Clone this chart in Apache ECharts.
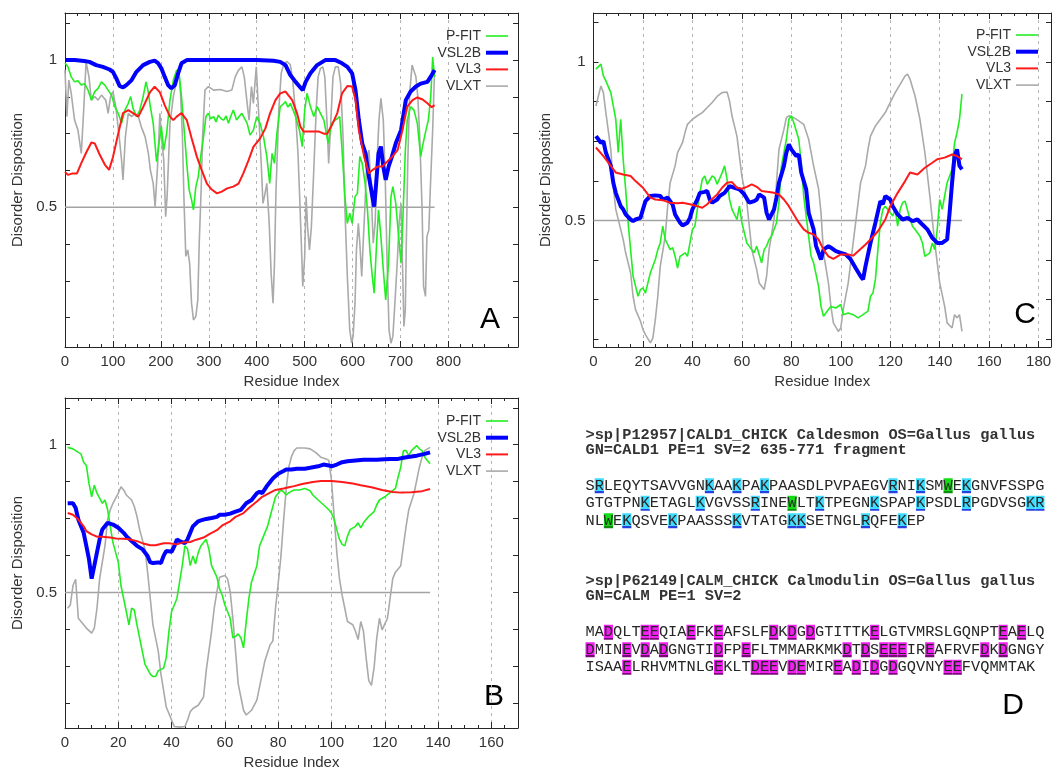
<!DOCTYPE html>
<html>
<head>
<meta charset="utf-8">
<script src="https://cdn.jsdelivr.net/npm/echarts@6/dist/echarts.min.js"></script>
<style>
  html, body { margin: 0; padding: 0; background: #fff; }
  #main { width: 1055px; height: 771px; }
</style>
</head>
<body>
<div id="main"></div>
<script>
// ---------------- data ----------------
const seriesNames = ['P-FIT', 'VSL2B', 'VL3', 'VLXT'];
const seriesColors = ['#22ee22', '#0000ff', '#ff1a1a', '#aaaaaa'];
const threshold = 0.5;

// x tick labels and dashed guide positions per panel
const xLabelsA = [0, 100, 200, 300, 400, 500, 600, 700, 800];
const xGuidesA = [100, 200, 300, 400, 500, 600, 700, 800];
const xLabelsB = [0, 20, 40, 60, 80, 100, 120, 140, 160];
const xGuidesB = [20, 40, 60, 80, 100, 120, 140, 160];
const xLabelsC = [0, 20, 40, 60, 80, 100, 120, 140, 160, 180];
const xGuidesC = [20, 40, 60, 80, 100, 120, 140, 160, 180];
const yLabels = [0.5, 1];
const yTicks = [0.125, 0.25, 0.375, 0.5, 0.625, 0.75, 0.875, 1, 1.125];

// sequence lengths (residues)
const lengthA = 771;   // Caldesmon
const lengthB = 137;   // Caldesmon 635-771 fragment
const lengthC = 149;   // Calmodulin

// Panel A: Caldesmon (full length)
const pfitA = [[0,0.99],[6,0.977],[13,0.943],[20,0.926],[27,0.93],[34,0.915],[41,0.92],[48,0.898],[55,0.864],[62,0.893],[69,0.904],[76,0.926],[83,0.915],[90,0.898],[97,0.881],[104,0.842],[111,0.819],[118,0.785],[125,0.83],[132,0.853],[137,0.876],[142,0.836],[149,0.808],[156,0.83],[163,0.876],[169,0.926],[173,0.898],[178,0.842],[184,0.785],[191,0.655],[197,0.728],[201,0.774],[206,0.694],[212,0.751],[219,0.864],[226,0.932],[233,0.966],[238,0.955],[243,0.876],[248,0.774],[254,0.649],[259,0.559],[264,0.525],[268,0.491],[273,0.57],[278,0.604],[283,0.672],[289,0.74],[294,0.808],[299,0.819],[304,0.8],[310,0.808],[315,0.79],[320,0.813],[326,0.8],[331,0.796],[336,0.81],[341,0.785],[346,0.81],[351,0.83],[358,0.796],[364,0.81],[369,0.819],[375,0.8],[380,0.785],[386,0.745],[393,0.762],[400,0.808],[407,0.785],[414,0.74],[421,0.672],[427,0.581],[432,0.683],[437,0.649],[442,0.751],[449,0.842],[455,0.85],[460,0.859],[465,0.84],[470,0.853],[476,0.83],[481,0.808],[489,0.762],[495,0.706],[500,0.83],[505,0.887],[512,0.842],[519,0.808],[526,0.842],[533,0.819],[540,0.796],[549,0.717],[556,0.785],[564,0.796],[573,0.808],[578,0.694],[584,0.536],[589,0.445],[594,0.48],[599,0.445],[605,0.536],[610,0.547],[615,0.672],[620,0.649],[626,0.581],[631,0.491],[636,0.355],[641,0.265],[645,0.208],[650,0.378],[654,0.491],[659,0.4],[664,0.287],[669,0.185],[675,0.31],[680,0.536],[684,0.57],[690,0.513],[696,0.4],[701,0.31],[705,0.468],[710,0.694],[714,0.796],[721,0.842],[728,0.83],[735,0.785],[742,0.672],[747,0.717],[753,0.762],[758,0.796],[763,0.876],[767,1.01],[771,0.943]];
const vsl2bA = [[0,1.0],[20,1.0],[40,0.997],[51,0.994],[65,0.983],[79,0.977],[93,0.968],[100,0.96],[107,0.938],[114,0.912],[121,0.907],[128,0.915],[139,0.932],[149,0.96],[163,0.983],[177,0.994],[187,0.998],[194,0.99],[201,0.972],[208,0.943],[215,0.915],[222,0.904],[229,0.915],[236,0.955],[243,0.989],[254,1.0],[300,1.0],[350,1.0],[400,1.0],[435,0.998],[449,0.994],[460,0.983],[470,0.949],[481,0.926],[491,0.907],[496,0.898],[502,0.926],[512,0.955],[526,0.983],[543,1.0],[564,1.0],[578,0.989],[589,0.977],[599,0.955],[606,0.898],[613,0.796],[620,0.717],[627,0.683],[634,0.604],[640,0.547],[645,0.502],[648,0.559],[654,0.683],[659,0.706],[664,0.638],[669,0.593],[675,0.638],[682,0.672],[690,0.717],[701,0.762],[711,0.864],[721,0.893],[732,0.91],[742,0.92],[756,0.926],[765,0.949],[771,0.966]];
const vl3A = [[0,0.62],[6,0.61],[16,0.615],[25,0.615],[34,0.65],[44,0.685],[55,0.72],[62,0.717],[72,0.68],[83,0.645],[92,0.627],[100,0.67],[111,0.75],[121,0.82],[132,0.83],[142,0.82],[153,0.808],[163,0.84],[177,0.89],[187,0.91],[198,0.89],[208,0.847],[219,0.808],[226,0.796],[233,0.808],[243,0.82],[254,0.796],[264,0.735],[275,0.672],[285,0.627],[296,0.58],[306,0.56],[317,0.547],[327,0.553],[338,0.564],[351,0.57],[362,0.58],[372,0.615],[383,0.66],[393,0.705],[407,0.734],[418,0.768],[428,0.82],[439,0.864],[449,0.887],[460,0.893],[474,0.864],[484,0.82],[491,0.774],[498,0.757],[516,0.757],[530,0.757],[540,0.75],[547,0.75],[557,0.78],[568,0.82],[578,0.887],[589,0.912],[599,0.91],[606,0.864],[613,0.762],[624,0.672],[634,0.615],[641,0.626],[652,0.638],[662,0.638],[669,0.65],[683,0.672],[694,0.695],[704,0.762],[714,0.842],[725,0.864],[735,0.873],[746,0.866],[756,0.853],[765,0.84],[771,0.847]];
const vlxtA = [[0,0.966],[4,0.808],[8,0.932],[13,0.887],[20,0.796],[27,0.762],[34,0.683],[39,0.83],[44,0.994],[50,0.943],[55,0.864],[62,0.876],[69,0.864],[76,0.881],[85,0.864],[90,0.819],[95,0.876],[100,0.893],[106,0.842],[113,0.74],[118,0.66],[121,0.593],[126,0.74],[132,0.819],[139,0.808],[146,0.819],[153,0.808],[159,0.774],[167,0.74],[174,0.683],[178,0.627],[184,0.581],[188,0.502],[193,0.638],[198,0.819],[201,0.74],[206,0.66],[210,0.468],[213,0.536],[219,0.785],[226,0.876],[233,0.932],[237,0.972],[241,0.887],[245,0.74],[248,0.536],[252,0.333],[256,0.355],[260,0.31],[264,0.174],[268,0.117],[273,0.129],[277,0.185],[280,0.378],[284,0.559],[287,0.74],[292,0.898],[299,0.91],[310,0.898],[324,0.9],[338,0.893],[348,0.898],[355,0.943],[362,0.966],[369,0.977],[374,0.943],[380,0.853],[384,0.796],[389,0.91],[393,0.853],[399,0.977],[404,0.819],[409,0.66],[413,0.513],[416,0.536],[421,0.581],[426,0.445],[430,0.276],[434,0.174],[437,0.31],[440,0.547],[446,0.83],[451,0.955],[457,0.989],[463,0.995],[470,0.985],[475,0.932],[481,0.819],[486,0.683],[489,0.559],[493,0.378],[496,0.231],[500,0.333],[503,0.536],[506,0.434],[510,0.355],[514,0.434],[519,0.627],[524,0.83],[528,0.943],[533,0.972],[538,0.977],[542,0.943],[547,0.774],[550,0.649],[554,0.774],[559,0.943],[564,0.977],[570,0.977],[575,0.921],[580,0.74],[584,0.491],[589,0.265],[594,0.083],[598,0.038],[601,0.061],[605,0.174],[608,0.355],[612,0.445],[615,0.378],[619,0.265],[622,0.378],[626,0.513],[629,0.638],[634,0.694],[638,0.581],[643,0.378],[647,0.445],[651,0.66],[655,0.796],[659,0.87],[664,0.796],[668,0.604],[672,0.31],[676,0.083],[680,0.038],[684,0.061],[689,0.197],[693,0.31],[697,0.445],[701,0.513],[704,0.31],[707,0.095],[710,0.151],[712,0.378],[715,0.649],[719,0.887],[724,0.983],[728,0.983],[732,0.943],[736,0.876],[740,0.74],[745,0.491],[748,0.231],[752,0.197],[755,0.4],[759,0.423],[762,0.559],[767,0.762],[771,0.966]];

// Panel B: Caldesmon fragment 635-771
const pfitB = [[1,0.991],[3,0.986],[5,0.974],[6,0.969],[7,0.941],[8,0.93],[9,0.869],[10,0.824],[11,0.863],[12,0.836],[13,0.819],[14,0.802],[15,0.813],[16,0.78],[17,0.724],[18,0.669],[20,0.602],[21,0.524],[22,0.48],[23,0.436],[24,0.391],[25,0.447],[26,0.441],[27,0.391],[28,0.347],[29,0.302],[30,0.258],[32,0.224],[33,0.216],[34,0.216],[35,0.236],[37,0.244],[38,0.28],[39,0.369],[40,0.436],[42,0.48],[43,0.536],[44,0.591],[45,0.658],[46,0.647],[47,0.591],[48,0.624],[49,0.597],[50,0.636],[51,0.658],[53,0.68],[54,0.647],[55,0.591],[57,0.552],[58,0.513],[59,0.491],[60,0.458],[62,0.413],[63,0.347],[64,0.352],[65,0.36],[66,0.347],[67,0.313],[68,0.402],[69,0.48],[70,0.536],[72,0.591],[73,0.658],[74,0.68],[76,0.724],[77,0.758],[78,0.791],[79,0.824],[81,0.847],[82,0.841],[83,0.83],[84,0.838],[86,0.847],[88,0.847],[90,0.852],[92,0.844],[93,0.83],[95,0.813],[97,0.797],[99,0.78],[100,0.769],[101,0.747],[102,0.713],[103,0.68],[104,0.663],[105,0.658],[106,0.691],[107,0.713],[109,0.724],[110,0.736],[111,0.719],[112,0.736],[113,0.747],[114,0.758],[116,0.774],[117,0.797],[118,0.813],[120,0.824],[122,0.838],[124,0.852],[125,0.891],[126,0.924],[127,0.98],[128,0.98],[129,0.963],[130,0.98],[132,0.997],[133,0.986],[134,0.98],[135,0.958],[137,0.936]];
const vsl2bB = [[1,0.802],[3,0.802],[4,0.786],[5,0.747],[7,0.702],[8,0.658],[9,0.613],[10,0.547],[11,0.591],[12,0.636],[13,0.68],[14,0.713],[16,0.736],[18,0.73],[20,0.719],[22,0.702],[23,0.691],[25,0.674],[27,0.658],[29,0.647],[31,0.624],[32,0.602],[33,0.6],[35,0.602],[36,0.6],[37,0.624],[38,0.641],[40,0.638],[41,0.656],[42,0.68],[43,0.674],[45,0.667],[46,0.68],[47,0.702],[48,0.724],[50,0.741],[51,0.744],[53,0.749],[55,0.752],[57,0.756],[58,0.763],[60,0.763],[62,0.767],[64,0.774],[66,0.78],[68,0.802],[70,0.813],[72,0.836],[73,0.841],[74,0.836],[76,0.863],[78,0.886],[80,0.902],[82,0.911],[83,0.916],[85,0.916],[87,0.919],[90,0.919],[92,0.922],[95,0.927],[97,0.933],[99,0.93],[100,0.927],[102,0.933],[104,0.941],[106,0.944],[109,0.947],[112,0.949],[117,0.949],[120,0.951],[122,0.952],[125,0.952],[127,0.956],[130,0.96],[132,0.963],[135,0.969],[137,0.974]];
const vl3B = [[1,0.769],[3,0.763],[5,0.747],[7,0.724],[8,0.708],[10,0.697],[12,0.689],[14,0.689],[17,0.686],[19,0.683],[22,0.682],[24,0.68],[27,0.674],[29,0.667],[32,0.66],[34,0.66],[37,0.667],[39,0.667],[42,0.663],[44,0.669],[47,0.671],[49,0.678],[52,0.686],[54,0.697],[57,0.711],[59,0.727],[62,0.741],[64,0.756],[67,0.769],[69,0.786],[72,0.808],[74,0.824],[77,0.838],[79,0.847],[82,0.852],[84,0.856],[86,0.86],[89,0.867],[93,0.874],[96,0.877],[100,0.877],[104,0.874],[108,0.869],[111,0.863],[115,0.856],[119,0.847],[123,0.84],[126,0.838],[130,0.839],[134,0.843],[137,0.85]];
const vlxtB = [[1,0.447],[2,0.458],[3,0.524],[4,0.545],[5,0.413],[6,0.402],[8,0.38],[10,0.363],[11,0.38],[12,0.447],[13,0.547],[15,0.658],[16,0.747],[17,0.78],[18,0.802],[20,0.836],[21,0.858],[22,0.847],[23,0.83],[25,0.813],[26,0.791],[27,0.758],[28,0.713],[30,0.647],[31,0.569],[32,0.48],[33,0.391],[35,0.302],[36,0.224],[37,0.169],[38,0.113],[40,0.069],[41,0.047],[43,0.045],[45,0.047],[46,0.069],[47,0.097],[48,0.108],[50,0.119],[52,0.147],[53,0.236],[55,0.369],[56,0.447],[57,0.502],[58,0.552],[60,0.558],[61,0.547],[62,0.502],[63,0.413],[64,0.302],[65,0.191],[67,0.102],[68,0.086],[70,0.102],[72,0.136],[73,0.18],[75,0.269],[77,0.324],[78,0.336],[79,0.447],[80,0.53],[81,0.62],[82,0.74],[83,0.85],[84,0.925],[85,0.96],[86,0.98],[87,0.989],[90,0.989],[92,0.986],[94,0.974],[96,0.958],[98,0.952],[99,0.947],[100,0.88],[101,0.758],[102,0.636],[103,0.547],[104,0.491],[105,0.447],[106,0.402],[108,0.391],[109,0.369],[110,0.341],[111,0.402],[112,0.369],[113,0.28],[114,0.202],[115,0.186],[116,0.247],[117,0.347],[118,0.413],[119,0.374],[121,0.413],[122,0.48],[123,0.547],[124,0.569],[126,0.591],[127,0.658],[128,0.724],[129,0.78],[131,0.836],[132,0.88],[133,0.924],[134,0.958],[135,0.98],[137,0.991]];

// Panel C: Calmodulin
const pfitC = [[1,0.977],[3,0.993],[4,0.956],[5,0.94],[7,0.903],[8,0.861],[9,0.819],[10,0.714],[11,0.819],[12,0.693],[13,0.598],[14,0.493],[15,0.408],[16,0.324],[17,0.293],[18,0.261],[19,0.282],[20,0.287],[21,0.271],[22,0.303],[23,0.335],[25,0.377],[26,0.408],[27,0.429],[28,0.482],[29,0.44],[31,0.408],[32,0.414],[33,0.387],[34,0.35],[35,0.387],[37,0.398],[38,0.387],[39,0.429],[40,0.472],[41,0.482],[42,0.535],[43,0.587],[44,0.63],[45,0.64],[46,0.614],[48,0.64],[49,0.635],[50,0.614],[52,0.65],[53,0.672],[54,0.63],[55,0.566],[56,0.535],[58,0.503],[59,0.545],[60,0.493],[62,0.429],[64,0.408],[65,0.398],[66,0.419],[68,0.366],[69,0.408],[70,0.419],[71,0.44],[72,0.45],[74,0.493],[75,0.556],[76,0.672],[78,0.756],[79,0.819],[80,0.83],[81,0.808],[83,0.756],[84,0.682],[85,0.577],[87,0.45],[88,0.387],[89,0.366],[91,0.293],[92,0.229],[93,0.198],[95,0.219],[96,0.229],[98,0.224],[100,0.235],[101,0.203],[103,0.208],[105,0.203],[107,0.193],[109,0.203],[111,0.214],[112,0.261],[113,0.271],[114,0.314],[115,0.408],[116,0.493],[117,0.535],[118,0.545],[120,0.524],[121,0.514],[122,0.535],[123,0.482],[124,0.535],[125,0.556],[126,0.561],[128,0.503],[129,0.482],[130,0.472],[132,0.45],[133,0.429],[134,0.387],[136,0.398],[137,0.429],[138,0.408],[139,0.472],[140,0.566],[141,0.535],[142,0.577],[143,0.619],[145,0.661],[146,0.745],[147,0.777],[148,0.819],[149,0.898]];
const vsl2bC = [[1,0.766],[3,0.745],[4,0.75],[5,0.714],[7,0.672],[8,0.619],[9,0.587],[11,0.545],[12,0.535],[13,0.519],[15,0.503],[16,0.498],[17,0.503],[19,0.508],[20,0.535],[21,0.561],[23,0.577],[25,0.579],[27,0.577],[28,0.566],[30,0.572],[32,0.55],[33,0.519],[35,0.493],[36,0.484],[38,0.493],[39,0.508],[40,0.535],[42,0.566],[43,0.587],[45,0.59],[46,0.593],[47,0.566],[48,0.556],[50,0.566],[51,0.577],[53,0.587],[55,0.608],[57,0.603],[59,0.598],[61,0.582],[63,0.556],[65,0.561],[66,0.566],[67,0.582],[69,0.572],[70,0.524],[71,0.503],[73,0.535],[74,0.572],[75,0.619],[77,0.672],[78,0.714],[79,0.74],[80,0.724],[82,0.703],[83,0.708],[84,0.651],[86,0.598],[87,0.524],[89,0.472],[90,0.419],[91,0.398],[92,0.377],[93,0.408],[95,0.419],[96,0.414],[98,0.403],[100,0.398],[102,0.393],[104,0.377],[106,0.35],[108,0.324],[109,0.314],[110,0.356],[112,0.429],[114,0.493],[116,0.561],[117,0.551],[118,0.577],[120,0.566],[121,0.545],[123,0.519],[125,0.503],[127,0.508],[129,0.498],[131,0.503],[133,0.487],[135,0.472],[137,0.445],[139,0.429],[141,0.429],[143,0.44],[144,0.524],[145,0.619],[146,0.703],[147,0.724],[148,0.672],[149,0.661]];
const vl3C = [[1,0.73],[4,0.703],[7,0.672],[9,0.651],[12,0.645],[15,0.64],[17,0.624],[20,0.603],[23,0.572],[25,0.566],[28,0.564],[31,0.556],[34,0.554],[36,0.556],[39,0.551],[42,0.545],[44,0.54],[46,0.551],[48,0.568],[50,0.582],[52,0.603],[54,0.619],[56,0.621],[58,0.603],[60,0.6],[62,0.606],[64,0.614],[66,0.606],[68,0.593],[71,0.59],[73,0.587],[75,0.582],[77,0.566],[79,0.545],[81,0.519],[83,0.493],[85,0.472],[87,0.461],[89,0.456],[91,0.44],[93,0.408],[95,0.387],[97,0.379],[100,0.393],[103,0.393],[105,0.389],[107,0.403],[110,0.424],[112,0.44],[115,0.466],[118,0.503],[120,0.545],[123,0.587],[126,0.624],[128,0.651],[131,0.645],[134,0.666],[137,0.682],[139,0.693],[142,0.698],[145,0.708],[147,0.703],[149,0.693]];
const vlxtC = [[1,0.861],[2,0.893],[3,0.924],[4,0.903],[5,0.84],[7,0.724],[8,0.608],[9,0.535],[11,0.472],[12,0.44],[13,0.398],[15,0.335],[16,0.261],[17,0.219],[19,0.182],[20,0.156],[21,0.14],[23,0.114],[24,0.129],[25,0.187],[26,0.261],[27,0.356],[29,0.45],[30,0.545],[31,0.619],[33,0.672],[34,0.714],[36,0.745],[37,0.777],[38,0.803],[40,0.819],[42,0.83],[44,0.84],[46,0.856],[48,0.872],[50,0.891],[52,0.903],[54,0.905],[55,0.877],[56,0.83],[58,0.766],[59,0.703],[60,0.64],[62,0.556],[63,0.482],[64,0.408],[66,0.345],[67,0.303],[69,0.282],[70,0.324],[71,0.408],[73,0.503],[74,0.619],[75,0.724],[77,0.787],[78,0.824],[79,0.83],[81,0.824],[83,0.814],[85,0.803],[87,0.756],[88,0.714],[89,0.672],[91,0.6],[92,0.524],[93,0.398],[95,0.303],[96,0.229],[97,0.177],[99,0.15],[100,0.161],[101,0.219],[103,0.303],[105,0.429],[107,0.556],[108,0.619],[110,0.672],[111,0.724],[112,0.766],[114,0.798],[116,0.819],[118,0.84],[120,0.872],[122,0.903],[124,0.929],[126,0.956],[127,0.961],[128,0.945],[130,0.893],[132,0.819],[134,0.714],[136,0.577],[138,0.429],[140,0.303],[142,0.229],[143,0.177],[145,0.161],[146,0.203],[147,0.193],[148,0.203],[149,0.15]];

// Panel D: sequences
const caldHeader = ['>sp|P12957|CALD1_CHICK Caldesmon OS=Gallus gallus', 'GN=CALD1 PE=1 SV=2 635-771 fragment'];
const caldSeq = ['SRLEQYTSAVVGNKAAKPAKPAASDLPVPAEGVRNIKSMWEKGNVFSSPG', 'GTGTPNKETAGLKVGVSSRINEWLTKTPEGNKSPAPKPSDLRPGDVSGKR', 'NLWEKQSVEKPAASSSKVTATGKKSETNGLRQFEKEP'];
const calmHeader = ['>sp|P62149|CALM_CHICK Calmodulin OS=Gallus gallus', 'GN=CALM PE=1 SV=2'];
const calmSeq = ['MADQLTEEQIAEFKEAFSLFDKDGDGTITTKELGTVMRSLGQNPTEAELQ', 'DMINEVDADGNGTIDFPEFLTMMARKMKDTDSEEEIREAFRVFDKDGNGY', 'ISAAELRHVMTNLGEKLTDEEVDEMIREADIDGDGQVNYEEFVQMMTAK'];

// ---------------- layout helpers ----------------
const FONT = 'Liberation Sans, Arial, Helvetica, sans-serif';
const INK = '#262626';

const panels = [
  { key: 'A', grid: { left: 65, top: 13, width: 453, height: 334 }, xMax: 945, xStep: 100, xLabels: xLabelsA, xGuides: xGuidesA, yMin: 0.025, yMax: 1.16, len: lengthA, legendRight: 547, legendTop: 29, data: [pfitA, vsl2bA, vl3A, vlxtA] },
  { key: 'B', grid: { left: 65, top: 398, width: 453, height: 335 }, xMax: 170, xStep: 20, xLabels: xLabelsB, xGuides: xGuidesB, yMin: 0.042, yMax: 1.158, len: lengthB, legendRight: 547, legendTop: 414, data: [pfitB, vsl2bB, vl3B, vlxtB] },
  { key: 'C', grid: { left: 593.5, top: 13, width: 457.5, height: 334 }, xMax: 185, xStep: 20, xLabels: xLabelsC, xGuides: xGuidesC, yMin: 0.101, yMax: 1.154, len: lengthC, legendRight: 17, legendTop: 28, data: [pfitC, vsl2bC, vl3C, vlxtC] }
];

const grids = [], xAxes = [], yAxes = [], series = [], legends = [];
const axisLineStyle = { color: INK, width: 1 };

panels.forEach((p, g) => {
  grids.push(Object.assign({ containLabel: false }, p.grid));

  // bottom x axis: labels, ticks, dashed guides
  xAxes.push({
    gridIndex: g, type: 'value', position: 'bottom', min: 0, max: p.xMax, interval: p.xStep,
    axisLine: { show: true, onZero: false, lineStyle: axisLineStyle },
    axisTick: { show: true, inside: true, length: 6, customValues: p.xGuides, lineStyle: axisLineStyle },
    minorTick: { show: true, splitNumber: 4, length: 3, lineStyle: axisLineStyle },
    axisLabel: { show: true, customValues: p.xLabels, margin: 7, fontSize: 15, fontFamily: FONT, color: '#333' },
    splitLine: { show: true, lineStyle: { color: '#b5b5b5', width: 1, type: [3, 4] } },
    name: 'Residue Index', nameLocation: 'middle', nameGap: 27,
    nameTextStyle: { fontSize: 15, fontFamily: FONT, color: '#333' }
  });
  // top mirror axis
  xAxes.push({
    gridIndex: g, type: 'value', position: 'top', min: 0, max: p.xMax, interval: p.xStep,
    axisLine: { show: true, onZero: false, lineStyle: axisLineStyle },
    axisTick: { show: true, inside: true, length: 6, customValues: p.xGuides, lineStyle: axisLineStyle },
    minorTick: { show: true, splitNumber: 4, length: 3, lineStyle: axisLineStyle },
    axisLabel: { show: false }, splitLine: { show: false }
  });
  // left y axis
  yAxes.push({
    gridIndex: g, type: 'value', position: 'left', min: p.yMin, max: p.yMax,
    axisLine: { show: true, onZero: false, lineStyle: axisLineStyle },
    axisTick: { show: true, inside: true, length: 5, customValues: yTicks, lineStyle: axisLineStyle },
    axisLabel: { show: true, customValues: yLabels, margin: 8, fontSize: 15, fontFamily: FONT, color: '#333' },
    splitLine: { show: false },
    name: 'Disorder Disposition', nameLocation: 'middle', nameGap: 40,
    nameTextStyle: { fontSize: 15, fontFamily: FONT, color: '#333' }
  });
  // right mirror axis
  yAxes.push({
    gridIndex: g, type: 'value', position: 'right', min: p.yMin, max: p.yMax,
    axisLine: { show: true, onZero: false, lineStyle: axisLineStyle },
    axisTick: { show: true, inside: true, length: 5, customValues: yTicks, lineStyle: axisLineStyle },
    axisLabel: { show: false }, splitLine: { show: false }
  });

  // 0.5 disorder threshold
  series.push({
    type: 'line', name: 'threshold-' + p.key, xAxisIndex: 2 * g, yAxisIndex: 2 * g,
    data: [[0, threshold], [p.len, threshold]], symbol: 'none', silent: true,
    lineStyle: { color: '#a3a3a3', width: 1.5 }, z: 1
  });

  // predictor curves: VLXT underneath, VL3 on top
  const order = [3, 0, 1, 2];
  order.forEach((k, i) => {
    series.push({
      type: 'line', name: seriesNames[k], xAxisIndex: 2 * g, yAxisIndex: 2 * g,
      data: p.data[k], symbol: 'none', showSymbol: false, clip: true,
      color: seriesColors[k], itemStyle: { color: seriesColors[k] },
      lineStyle: { color: seriesColors[k], width: k === 1 ? 4 : (k === 2 ? 2 : 1.6) },
      z: 2 + i
    });
  });

  legends.push({
    orient: 'vertical', align: 'right', right: p.legendRight, top: p.legendTop, padding: 0,
    itemWidth: 22, itemHeight: 12, itemGap: 2.7, selectedMode: false,
    itemStyle: { borderWidth: 0 },
    textStyle: { fontSize: 14, fontFamily: FONT, color: '#333', lineHeight: 14 },
    data: seriesNames.map((n, k) => ({
      name: n,
      icon: k === 1 ? 'path://M0,0H22V4H0Z' : (k === 2 ? 'path://M0,0H22V2H0Z' : 'path://M0,0H22V1.6H0Z')
    }))
  });
});

// ---------------- sequence panel (D) ----------------
function gradientBox(fill, line) {
  return {
    type: 'linear', x: 0, y: 0, x2: 0, y2: 1,
    colorStops: [
      { offset: 0, color: fill }, { offset: 0.86, color: fill },
      { offset: 0.87, color: line }, { offset: 1, color: line }
    ]
  };
}
const MONO = 'Liberation Mono, Courier New, monospace';
const MONO_SIZE = 15.3;
const seqRich = {
  kr: { backgroundColor: gradientBox('#3fdcff', '#2a3fe0'), color: '#141466', lineHeight: 17.5, fontFamily: MONO, fontSize: MONO_SIZE },
  w:  { backgroundColor: gradientBox('#14dc14', '#108a10'), color: '#222', lineHeight: 17.5, fontFamily: MONO, fontSize: MONO_SIZE },
  de: { backgroundColor: gradientBox('#f01ff0', '#7a0a7a'), color: '#2a0a2a', lineHeight: 17.5, fontFamily: MONO, fontSize: MONO_SIZE }
};
function markSequence(lines, rules) {
  return lines.map(line => line.split('').map(ch => rules[ch] ? '{' + rules[ch] + '|' + ch + '}' : ch).join('')).join('\n');
}
const caldRules = { K: 'kr', R: 'kr', W: 'w' };
const calmRules = { D: 'de', E: 'de' };

const headerStyle = { font: 'bold ' + MONO_SIZE + 'px ' + MONO, fill: '#333', lineHeight: 15.5 };
const seqStyle = { font: MONO_SIZE + 'px ' + MONO, fill: '#262626', lineHeight: 17.5, rich: seqRich };

const graphics = [
  { type: 'text', x: 585.5, y: 427, style: Object.assign({ text: caldHeader.join('\n') }, headerStyle) },
  { type: 'text', x: 585.5, y: 477, style: Object.assign({ text: markSequence(caldSeq, caldRules) }, seqStyle) },
  { type: 'text', x: 585.5, y: 573, style: Object.assign({ text: calmHeader.join('\n') }, headerStyle) },
  { type: 'text', x: 585.5, y: 623.5, style: Object.assign({ text: markSequence(calmSeq, calmRules) }, seqStyle) },
  // panel letters
  { type: 'text', x: 490, y: 320, style: { text: 'A', font: '30px ' + FONT, fill: '#000', align: 'center', verticalAlign: 'middle' } },
  { type: 'text', x: 494, y: 697, style: { text: 'B', font: '30px ' + FONT, fill: '#000', align: 'center', verticalAlign: 'middle' } },
  { type: 'text', x: 1025, y: 315, style: { text: 'C', font: '30px ' + FONT, fill: '#000', align: 'center', verticalAlign: 'middle' } },
  { type: 'text', x: 1013, y: 706, style: { text: 'D', font: '30px ' + FONT, fill: '#000', align: 'center', verticalAlign: 'middle' } }
];

const chart = echarts.init(document.getElementById('main'), null, { renderer: 'canvas' });
chart.setOption({
  animation: false,
  backgroundColor: '#fff',
  grid: grids,
  xAxis: xAxes,
  yAxis: yAxes,
  legend: legends,
  series: series,
  graphic: graphics
});
</script>
</body>
</html>
